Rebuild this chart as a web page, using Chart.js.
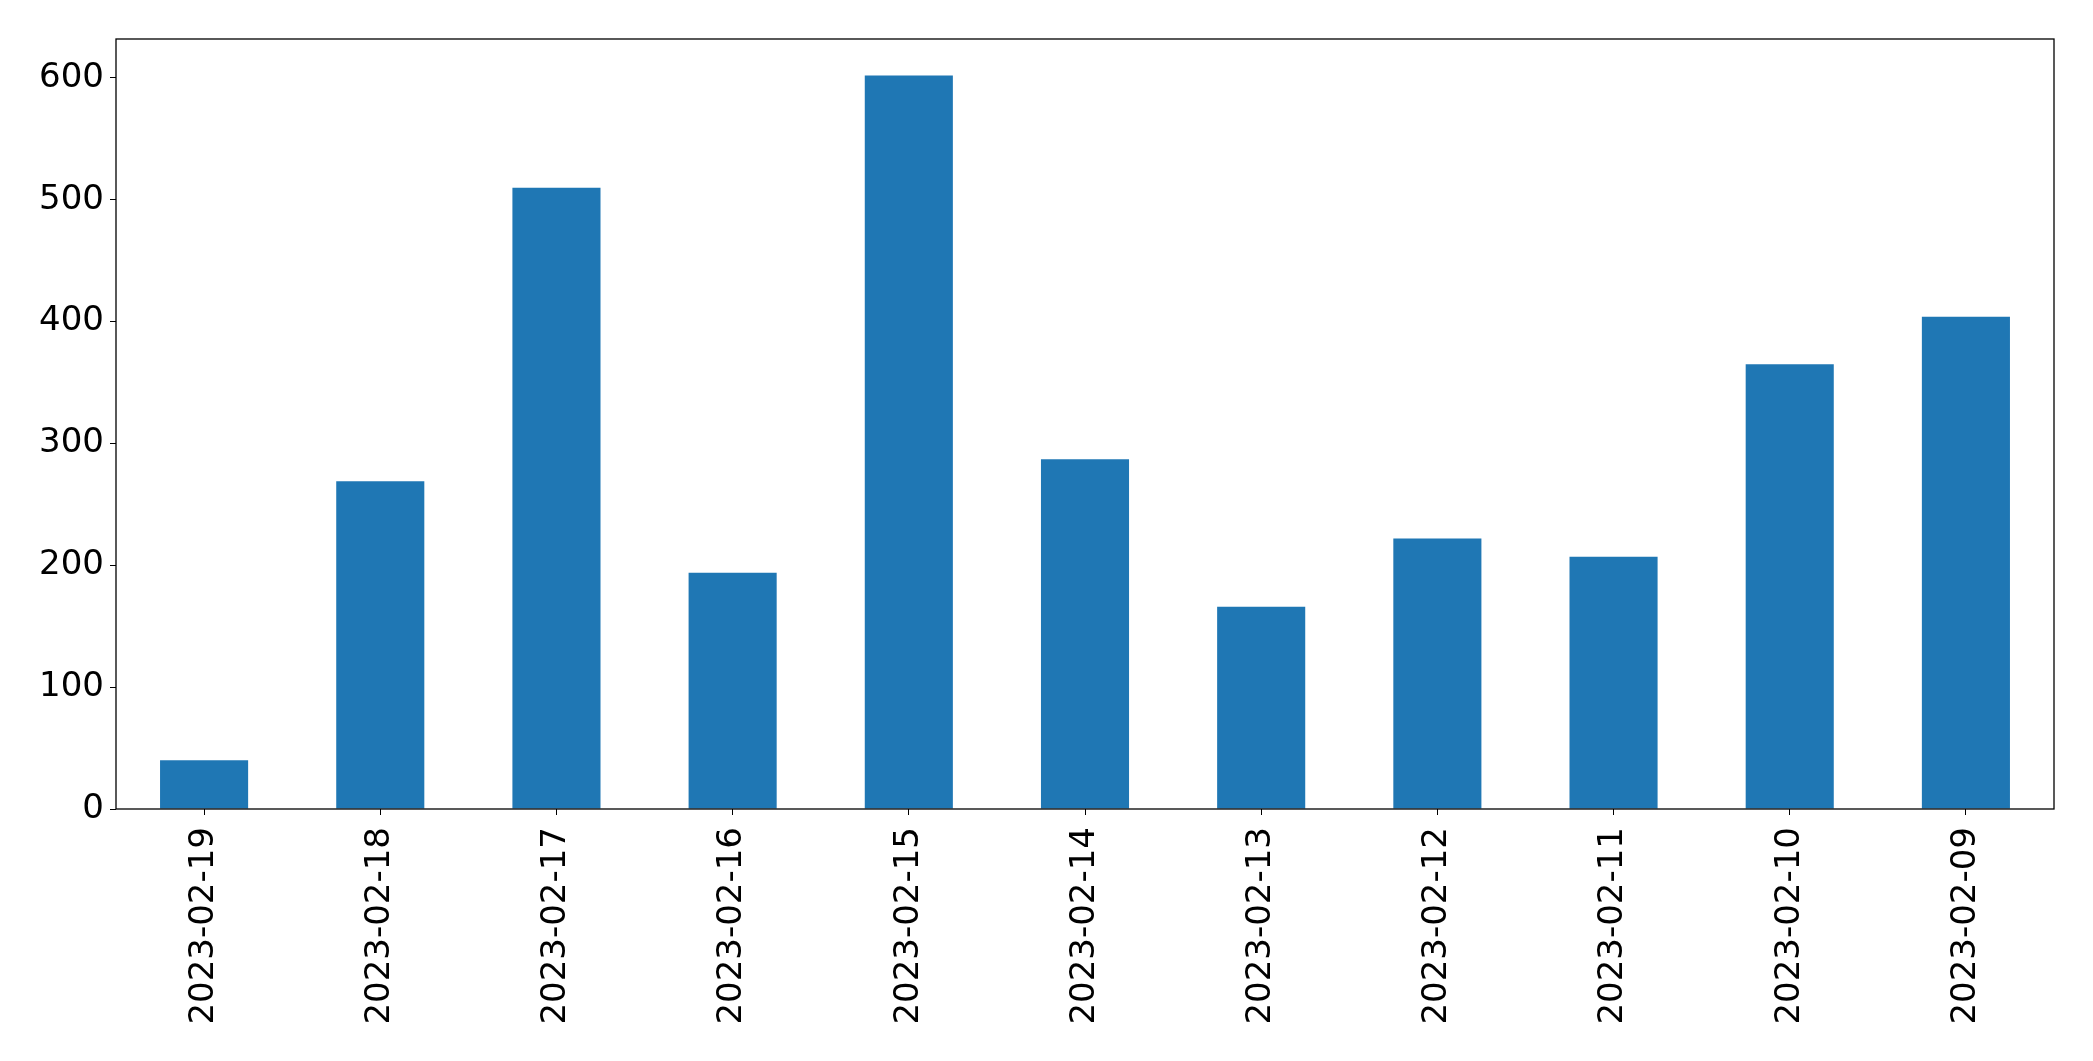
<!DOCTYPE html>
<html>
<head>
<meta charset="utf-8">
<script src="https://cdn.jsdelivr.net/npm/chart.js@4.4.0/dist/chart.umd.min.js"></script>
<style>
  html, body { margin: 0; padding: 0; background: #fff; }
  #wrap { width: 2093px; height: 1061px; }
</style>
</head>
<body>
<div id="wrap"><canvas id="chart-canvas" width="2093" height="1061"></canvas></div>
<script>
const dates = [
  "2023-02-19", "2023-02-18", "2023-02-17", "2023-02-16", "2023-02-15", "2023-02-14",
  "2023-02-13", "2023-02-12", "2023-02-11", "2023-02-10", "2023-02-09"
];
const counts = [40, 269, 510, 194, 602, 287, 166, 222, 207, 365, 404];
const yTicks = [0, 100, 200, 300, 400, 500, 600];
const yMax = 632;

// box round the plot area, like the matplotlib spines
const frame = {
  id: "frame",
  afterDraw(c) {
    const { ctx, chartArea: a } = c;
    ctx.save();
    ctx.strokeStyle = "#000";
    ctx.lineWidth = 1.3;
    ctx.strokeRect(a.left, a.top, a.right - a.left, a.bottom - a.top);
    ctx.restore();
  }
};

const font = { family: "'DejaVu Sans', sans-serif", size: 34 };

new Chart(document.getElementById("chart-canvas").getContext("2d"), {
  type: "bar",
  data: {
    labels: dates,
    datasets: [{
      data: counts,
      backgroundColor: "#1f77b4",
      borderWidth: 0,
      barPercentage: 0.5,
      categoryPercentage: 1.0
    }]
  },
  options: {
    responsive: false,
    animation: false,
    layout: { padding: { top: 39, right: 39, left: 0, bottom: 0 } },
    plugins: { legend: { display: false }, tooltip: { enabled: false } },
    scales: {
      x: {
        offset: true,
        grid: { display: true, drawOnChartArea: false, drawTicks: true, tickLength: 6, color: "#000", offset: false },
        border: { display: false },
        ticks: { color: "#000", font, minRotation: 90, maxRotation: 90, padding: 12, autoSkip: false },
        afterFit: (s) => { s.height = 252; }
      },
      y: {
        min: 0,
        max: yMax,
        grid: { display: true, drawOnChartArea: false, drawTicks: true, tickLength: 6, color: "#000" },
        border: { display: false },
        ticks: { color: "#000", font, padding: 6 },
        afterBuildTicks: (s) => { s.ticks = yTicks.map((v) => ({ value: v })); },
        afterFit: (s) => { s.width = 116; }
      }
    }
  },
  plugins: [frame]
});
</script>
</body>
</html>
